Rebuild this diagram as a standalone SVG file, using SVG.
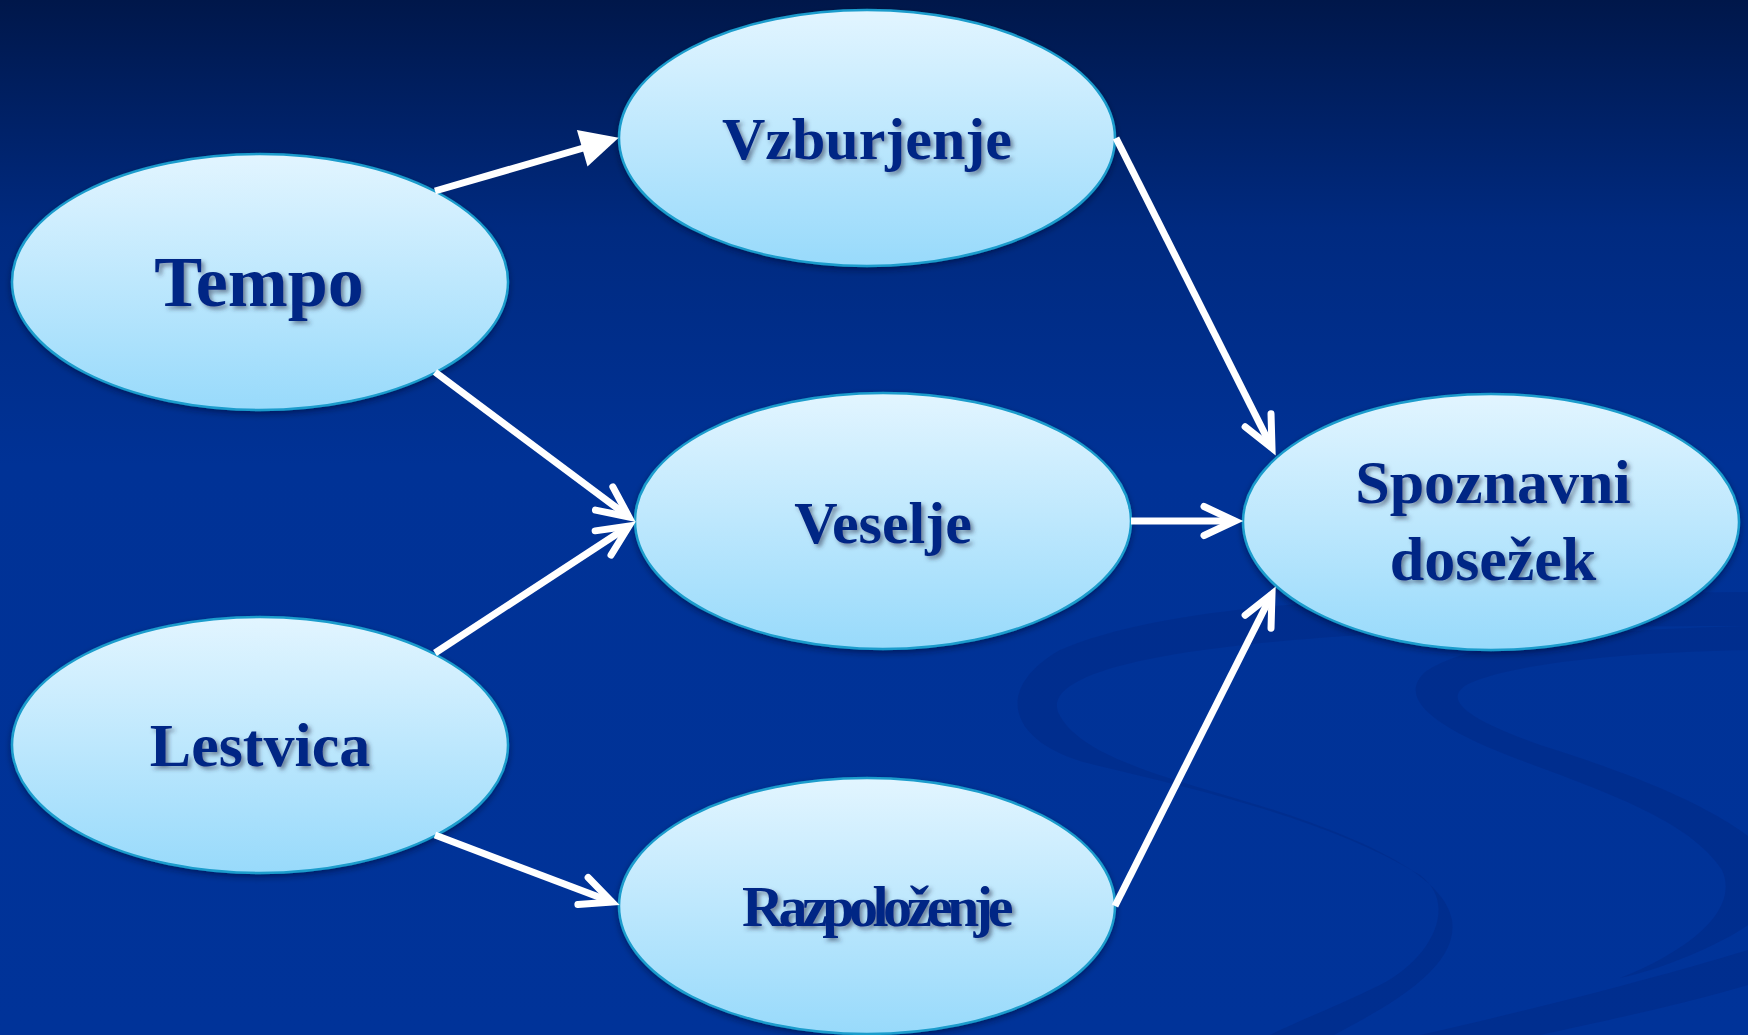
<svg xmlns="http://www.w3.org/2000/svg" width="1748" height="1035" viewBox="0 0 1748 1035">
<defs>
<linearGradient id="bg" x1="0" y1="0" x2="0" y2="1">
<stop offset="0" stop-color="#00174a"/>
<stop offset="0.22" stop-color="#002a80"/>
<stop offset="0.45" stop-color="#003296"/>
<stop offset="1" stop-color="#003399"/>
</linearGradient>
<linearGradient id="node" x1="0" y1="0" x2="0" y2="1">
<stop offset="0" stop-color="#e2f5ff"/>
<stop offset="1" stop-color="#98dafb"/>
</linearGradient>
<filter id="nshadow" x="-10%" y="-10%" width="120%" height="130%">
<feDropShadow dx="0" dy="3" stdDeviation="3" flood-color="#000820" flood-opacity="0.45"/>
</filter>
<filter id="tshadow" x="-10%" y="-20%" width="120%" height="150%">
<feDropShadow dx="3" dy="3" stdDeviation="2" flood-color="#303850" flood-opacity="0.55"/>
</filter>
<marker id="chev" markerUnits="userSpaceOnUse" markerWidth="60" markerHeight="60" viewBox="-45 -30 60 60" refX="0" refY="0" orient="auto" overflow="visible">
<path d="M-31,-14.5 L0,0 L-31,14.5" fill="none" stroke="#ffffff" stroke-width="7" stroke-linecap="round" stroke-linejoin="miter" stroke-miterlimit="10"/>
</marker>
<marker id="tri" markerUnits="userSpaceOnUse" markerWidth="60" markerHeight="60" viewBox="-45 -30 60 60" refX="0" refY="0" orient="auto" overflow="visible">
<path d="M8,0 L-30,-19 L-30,19 Z" fill="#ffffff"/>
</marker>
<style>
.node ellipse{fill:url(#node);stroke:#1a9ccc;stroke-width:2.5;filter:url(#nshadow)}
.node text{font-family:"Liberation Serif","DejaVu Serif",serif;font-weight:bold;fill:#062785;text-anchor:middle;filter:url(#tshadow)}
.edge{fill:none;stroke:#ffffff;stroke-width:7;stroke-linecap:butt}
.swoosh{fill:#002a86;opacity:0.55}
</style>
</defs>

<rect x="0" y="0" width="1748" height="1035" fill="url(#bg)"/>
<g id="background-swooshes">
<path class="swoosh" d="M1748,592 C1500,595 1200,590 1060,650 C990,690 1010,745 1095,765 C1200,790 1330,820 1420,875 C1460,905 1430,960 1380,985 C1340,1005 1300,1020 1270,1035 L1334,1035 C1380,1010 1460,970 1452,920 C1445,880 1380,845 1280,812 C1180,780 1080,760 1058,712 C1040,660 1250,625 1748,626 Z"/>
<path class="swoosh" d="M1748,626 C1600,630 1470,640 1425,672 C1395,700 1440,730 1520,760 C1600,790 1690,820 1722,870 C1740,910 1690,950 1620,978 C1660,970 1720,945 1748,925 L1748,836 C1700,800 1620,770 1540,745 C1470,720 1440,700 1468,684 C1520,660 1650,652 1748,650 Z"/>
<path class="swoosh" d="M1420,1035 C1530,1010 1650,980 1748,950 L1748,985 C1680,1005 1600,1022 1540,1035 Z"/>
</g>

<g id="node-tempo" class="node">
<ellipse cx="260" cy="282" rx="248" ry="128"/>
<text x="259" y="306" font-size="72">Tempo</text>
</g>
<g id="node-lestvica" class="node">
<ellipse cx="260" cy="745" rx="248" ry="128"/>
<text x="260" y="766" font-size="62">Lestvica</text>
</g>
<g id="node-vzburjenje" class="node">
<ellipse cx="867" cy="138" rx="248" ry="128"/>
<text x="867" y="159" font-size="60">Vzburjenje</text>
</g>
<g id="node-veselje" class="node">
<ellipse cx="883" cy="521" rx="248" ry="128"/>
<text x="883" y="543" font-size="60">Veselje</text>
</g>
<g id="node-razpolozenje" class="node">
<ellipse cx="867" cy="906" rx="248" ry="128"/>
<text x="875" y="926" font-size="58" letter-spacing="-5.5">Razpoloženje</text>
</g>
<g id="node-spoznavni" class="node">
<ellipse cx="1491" cy="522" rx="248" ry="128"/>
<text x="1493" y="503" font-size="62">Spoznavni</text>
<text x="1493" y="580" font-size="62">dosežek</text>
</g>

<g id="connectors">
<line class="edge" x1="435" y1="191" x2="611" y2="140" marker-end="url(#tri)"/>
<line class="edge" x1="435" y1="372" x2="629" y2="517" marker-end="url(#chev)"/>
<line class="edge" x1="435" y1="653" x2="629" y2="526" marker-end="url(#chev)"/>
<line class="edge" x1="435" y1="835" x2="612" y2="902" marker-end="url(#chev)"/>
<line class="edge" x1="1116" y1="138" x2="1272" y2="448" marker-end="url(#chev)"/>
<line class="edge" x1="1131" y1="521" x2="1235" y2="521" marker-end="url(#chev)"/>
<line class="edge" x1="1115" y1="906" x2="1272" y2="594" marker-end="url(#chev)"/>
</g>
</svg>
